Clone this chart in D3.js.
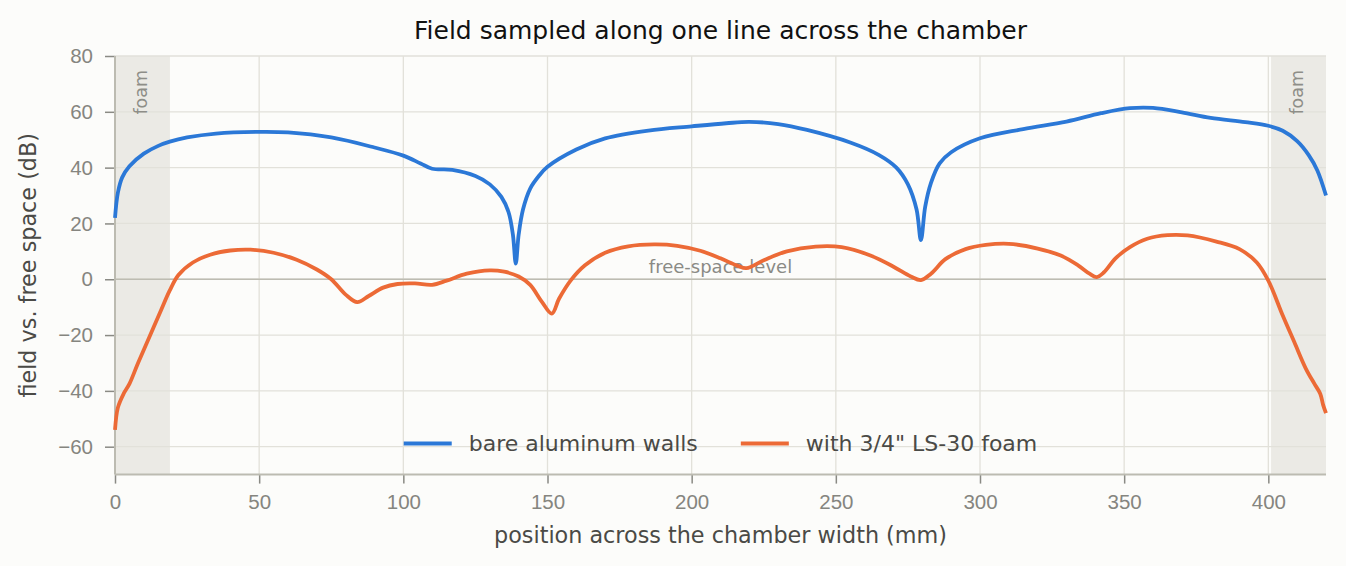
<!DOCTYPE html>
<html>
<head>
<meta charset="utf-8">
<script src="https://cdn.jsdelivr.net/npm/d3@7"></script>
<style>
  body { margin: 0; background: #fcfcfa; }
  svg { display: block; font-family: "DejaVu Sans", sans-serif; }
  .axis path { display: none; }
  .axis line { stroke: #8a8a84; stroke-width: 1.5; }
  .axis text { fill: #85857f; font-size: 20.5px; }
</style>
</head>
<body>
<svg id="chart"></svg>
<script>
// position across the chamber (mm)
const bareX = [0, 1, 2.5, 5, 10, 15, 19, 25, 35, 50, 60, 75, 90, 100, 106, 110, 117, 125, 130, 134,
  136.5, 138, 139, 140, 141.5, 144, 147, 150, 160, 170, 185, 200, 212, 220, 230, 240, 255, 265, 271,
  275, 278, 279.5, 281, 283, 286, 290, 300, 315, 330, 342, 352, 360, 370, 380, 392, 400, 405, 410,
  414, 417, 420]
// field vs. free space (dB), bare aluminum walls
const bareY = [22, 31, 36.5, 40.5, 45, 47.8, 49.3, 50.8, 52.2, 52.8, 52.6, 50.8, 47.2, 44.3, 41.5,
  39.6, 39.2, 37, 34, 29.5, 24, 16, 5.6, 16, 25, 32.5, 37, 40.3, 46.5, 50.5, 53.3, 54.8, 55.9, 56.4,
  55.6, 53.5, 49, 44.5, 40, 34, 25, 14, 26, 34.5, 41.5, 45.5, 50.5, 53.8, 56.5, 59.5, 61.3, 61.4,
  59.8, 57.8, 56.3, 55, 53.2, 49.5, 44.5, 39, 30]

const foamX = [0, 1, 3, 5, 8, 12, 16, 19, 22, 27, 33, 40, 47, 55, 63, 70, 75, 80, 84, 88, 93, 98,
  104, 110, 115, 122, 130, 135, 140, 144, 148, 151.5, 154, 158, 163, 170, 178, 187, 195, 203, 210,
  216, 219, 225, 233, 243, 252, 262, 270, 276, 279.5, 283, 288, 295, 302, 310, 320, 328, 334, 338,
  340.5, 343, 347, 352, 358, 365, 372, 382, 390, 396, 400, 405, 409, 413, 416, 418, 419, 420]
// field vs. free space (dB), with 3/4" LS-30 foam
const foamY = [-54, -46, -41, -37.5, -30, -20.5, -11, -4, 1.5, 6, 8.8, 10.3, 10.6, 9.5, 7, 3.5, 0,
  -5.5, -8.2, -6, -3, -1.7, -1.5, -2, -0.5, 2, 3.2, 2.7, 1, -2, -8, -12.3, -7, -0.5, 5, 9.5, 11.8,
  12.5, 12, 10.2, 7.5, 4.8, 4, 6.8, 10, 11.7, 11.5, 8.5, 4.5, 1, -0.3, 2, 7.2, 10.8, 12.3, 12.7, 11,
  8.5, 5, 2, 0.8, 2.5, 7.5, 11.5, 14.5, 15.8, 15.7, 13.5, 10.8, 6, -0.5, -13, -22.5, -32, -37.5,
  -41, -45, -48]

const seriesNames = ['bare aluminum walls', 'with 3/4" LS-30 foam']
const seriesColors = ['#2b78d7', '#ec6a36']
const foamBands = [[0, 19.05], [400.95, 420]]
const xTicks = [0, 50, 100, 150, 200, 250, 300, 350, 400]
const yTicks = [-60, -40, -20, 0, 20, 40, 60, 80]

const width = 1346, height = 566
const margin = { top: 56, right: 20, bottom: 91.4, left: 115 }
const innerW = width - margin.left - margin.right
const innerH = height - margin.top - margin.bottom

const svg = d3.select('#chart').attr('width', width).attr('height', height)
svg.append('rect').attr('width', width).attr('height', height).attr('fill', '#fcfcfa')

const chart = svg.append('g').attr('transform', `translate(${margin.left}, ${margin.top})`)

const x = d3.scaleLinear().domain([0, 420]).range([0, innerW])
const y = d3.scaleLinear().domain([-70, 80]).range([innerH, 0])

// foam bands
chart.selectAll('.band')
  .data(foamBands)
  .join('rect')
    .attr('class', 'band')
    .attr('x', d => x(d[0]))
    .attr('width', d => x(d[1]) - x(d[0]))
    .attr('y', 0)
    .attr('height', innerH)
    .attr('fill', '#ebeae5')

// grid
chart.append('g').selectAll('line')
  .data(xTicks)
  .join('line')
    .attr('x1', d => x(d)).attr('x2', d => x(d))
    .attr('y1', 0).attr('y2', innerH)
    .attr('stroke', '#e2e1da').attr('stroke-width', 1.3)
chart.append('g').selectAll('line')
  .data(yTicks)
  .join('line')
    .attr('x1', 0).attr('x2', innerW)
    .attr('y1', d => y(d)).attr('y2', d => y(d))
    .attr('stroke', '#e2e1da').attr('stroke-width', 1.3)

// free-space reference
chart.append('line')
  .attr('x1', 0).attr('x2', innerW)
  .attr('y1', y(0)).attr('y2', y(0))
  .attr('stroke', '#bdbcb2').attr('stroke-width', 1.6)

chart.append('text')
  .attr('x', x(210)).attr('y', y(2.1))
  .attr('text-anchor', 'middle')
  .attr('fill', '#8a8a85')
  .attr('font-size', 18)
  .text('free-space level')

// foam labels
chart.selectAll('.foam-label')
  .data(foamBands)
  .join('text')
    .attr('class', 'foam-label')
    .attr('transform', d => `translate(${x((d[0] + d[1]) / 2) + 4.5}, ${y(75)}) rotate(-90)`)
    .attr('text-anchor', 'end')
    .attr('fill', '#8e8e88')
    .attr('font-size', 17.5)
    .text('foam')

// axes
const xAxis = d3.axisBottom(x).tickValues(xTicks).tickSize(9).tickPadding(11)
const yAxis = d3.axisLeft(y).tickValues(yTicks).tickSize(10).tickPadding(12)

chart.append('g')
  .attr('class', 'axis x-axis')
  .attr('transform', `translate(0, ${innerH})`)
  .call(xAxis)
chart.append('g')
  .attr('class', 'axis y-axis')
  .call(yAxis)

// spines
chart.append('line')
  .attr('x1', 0).attr('x2', innerW).attr('y1', innerH).attr('y2', innerH)
  .attr('stroke', '#bcbbb1').attr('stroke-width', 2)
chart.append('line')
  .attr('x1', 0).attr('x2', 0).attr('y1', 0).attr('y2', innerH)
  .attr('stroke', '#bcbbb1').attr('stroke-width', 2)

// series
const series = [
  bareX.map((v, i) => ({ x: v, y: bareY[i] })),
  foamX.map((v, i) => ({ x: v, y: foamY[i] }))
]

const line = d3.line()
  .x(d => x(d.x))
  .y(d => y(d.y))
  .curve(d3.curveCatmullRom.alpha(0.5))

chart.selectAll('.series')
  .data(series)
  .join('path')
    .attr('class', 'series')
    .attr('fill', 'none')
    .attr('stroke', (d, i) => seriesColors[i])
    .attr('stroke-width', 3.8)
    .attr('stroke-linejoin', 'round')
    .attr('d', line)

// legend, centred on the plot
const legend = chart.append('g').attr('transform', `translate(0, ${y(-58.9)})`)
const items = legend.selectAll('g')
  .data(seriesNames)
  .join('g')
items.append('line')
  .attr('x1', 0).attr('x2', 48)
  .attr('stroke', (d, i) => seriesColors[i])
  .attr('stroke-width', 4)
items.append('text')
  .attr('x', 65).attr('dy', '0.35em')
  .attr('fill', '#4a4a46')
  .attr('font-size', 22)
  .text(d => d)

let offset = 0
const positions = []
items.each(function () {
  const w = 65 + d3.select(this).select('text').node().getComputedTextLength()
  positions.push(offset)
  offset += w + 43
})
const totalW = offset - 43
const startX = innerW / 2 - totalW / 2
items.attr('transform', (d, i) => `translate(${startX + positions[i]}, 0)`)

// labels
svg.append('text')
  .attr('x', margin.left + innerW / 2).attr('y', 39)
  .attr('text-anchor', 'middle')
  .attr('fill', '#111')
  .attr('font-size', 25)
  .text('Field sampled along one line across the chamber')

svg.append('text')
  .attr('x', margin.left + innerW / 2).attr('y', 542.5)
  .attr('text-anchor', 'middle')
  .attr('fill', '#4a4a46')
  .attr('font-size', 22.3)
  .text('position across the chamber width (mm)')

svg.append('text')
  .attr('transform', `translate(36, ${margin.top + innerH / 2}) rotate(-90)`)
  .attr('text-anchor', 'middle')
  .attr('fill', '#4a4a46')
  .attr('font-size', 22.3)
  .text('field vs. free space (dB)')
</script>
</body>
</html>
